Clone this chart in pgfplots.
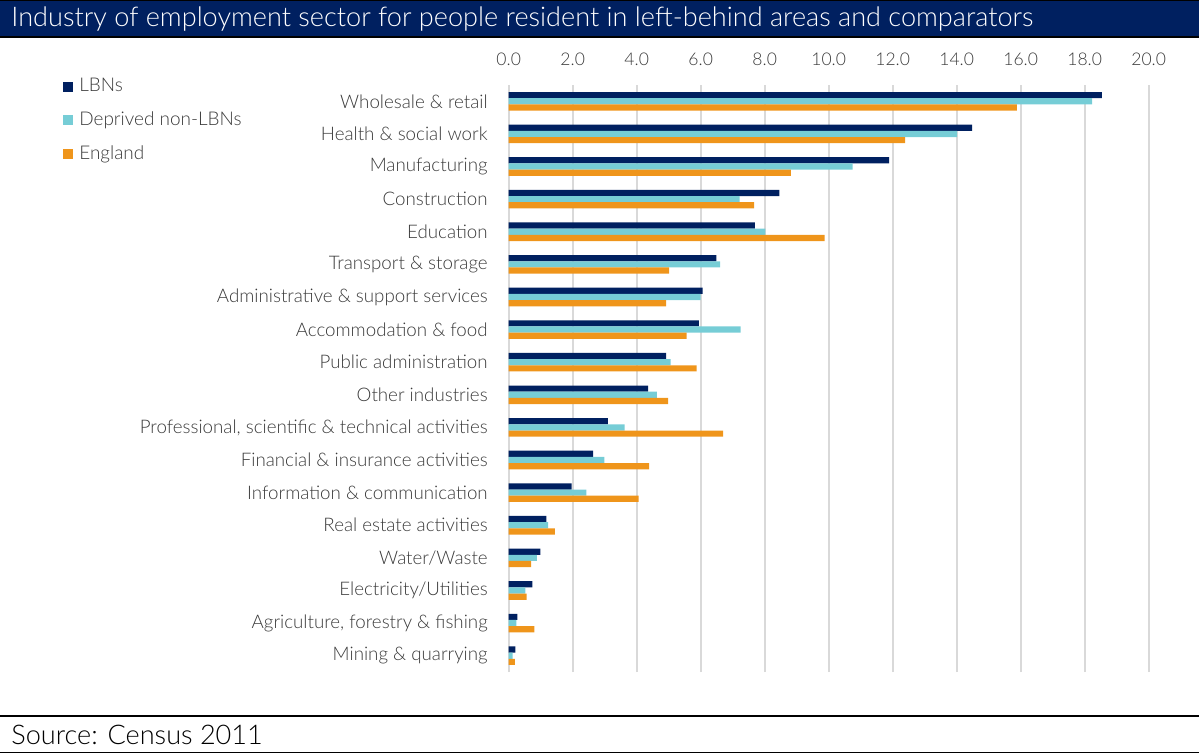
\documentclass[border=0pt]{standalone}
\usepackage{fontspec}
\setmainfont{Lato}[UprightFont=* Light, BoldFont=*]
\usepackage{pgfplots}
\pgfplotsset{compat=1.18}
\definecolor{navy}{HTML}{002060}
\definecolor{teal2}{HTML}{76CDD6}
\definecolor{orng}{HTML}{EF951B}
\definecolor{gridgray}{HTML}{D9D9D9}
\definecolor{txt}{HTML}{3A3A3A}
\begin{document}
\begin{tikzpicture}
\path[use as bounding box] (0,0) rectangle (599.5bp,-377bp);
\begin{scope}[x=0.5bp,y=-0.5bp]
\fill[navy] (0,0) rectangle (1199,37);
\fill[black] (0,0) rectangle (1199,1);
\fill[black] (0,36) rectangle (1199,38);
\node[anchor=west, text=white, font=\fontsize{13.6}{15}\selectfont, inner sep=0] at (11,19) {Industry of employment sector for people resident in left-behind areas and comparators};
\fill[black] (0,715) rectangle (1199,717);
\fill[black] (0,752) rectangle (1199,753.5);
\node[anchor=west, text=black, font=\fontsize{13.6}{15}\selectfont, inner sep=0] at (11,735) {Source: Census 2011};
\end{scope}
\begin{axis}[
  at={(254.35bp,-42.5bp)}, anchor=north west,
  xbar, scale only axis, width=320bp, height=293.5bp,
  xmin=0, xmax=20, ymin=-0.5, ymax=17.5,
  axis line style={draw=none}, major tick length=0pt,
  xtick={0,2,...,20}, xticklabel pos=upper,
  /pgf/number format/fixed, /pgf/number format/fixed zerofill, /pgf/number format/precision=1, /pgf/number format/assume math mode=true,
  xticklabel style={font=\fontsize{8.8}{10}\selectfont, text=txt, anchor=center, yshift=13bp},
  xmajorgrids, major grid style={draw=gridgray, line width=1bp},
  ytick={0,...,17},
  yticklabels={Mining \& quarrying, {Agriculture, forestry \& fishing}, Electricity/Utilities, Water/Waste, Real estate activities, Information \& communication, Financial \& insurance activities, {Professional, scientific \& technical activities}, Other industries, Public administration, Accommodation \& food, Administrative \& support services, Transport \& storage, Education, Construction, Manufacturing, Health \& social work, Wholesale \& retail},
  yticklabel style={font=\fontsize{9.4}{11}\selectfont, text=txt, xshift=-7bp},
  bar width=0.19,
  legend style={at={(axis description cs:-0.6964,1.0115)}, anchor=north west, draw=none, fill=none,
    font=\fontsize{9.5}{11}\selectfont, text=txt, inner sep=0pt, row sep=8.9bp,
    nodes={text height=6.5bp, text depth=1.5bp, inner sep=0pt},
    /tikz/every odd column/.append style={column sep=3bp}},
  legend cell align=left,
  legend image code/.code={\fill[#1] (0bp,-2.5bp) rectangle (5bp,2.5bp);},
]
\addplot[fill=navy, draw=none, bar shift=0.19] coordinates {
(0.21,0) (0.27,1) (0.74,2) (0.99,3) (1.18,4) (1.97,5) (2.64,6) (3.10,7) (4.36,8) (4.92,9) (5.94,10) (6.06,11) (6.49,12) (7.69,13) (8.46,14) (11.89,15) (14.48,16) (18.54,17)};
\addplot[fill=teal2, draw=none, bar shift=0] coordinates {
(0.12,0) (0.24,1) (0.52,2) (0.88,3) (1.23,4) (2.43,5) (2.99,6) (3.62,7) (4.63,8) (5.06,9) (7.25,10) (6.00,11) (6.61,12) (8.02,13) (7.22,14) (10.75,15) (14.01,16) (18.23,17)};
\addplot[fill=orng, draw=none, bar shift=-0.19] coordinates {
(0.19,0) (0.80,1) (0.56,2) (0.70,3) (1.44,4) (4.06,5) (4.39,6) (6.70,7) (4.98,8) (5.87,9) (5.56,10) (4.92,11) (5.01,12) (9.87,13) (7.67,14) (8.82,15) (12.39,16) (15.88,17)};
\legend{LBNs, Deprived non-LBNs, England}
\end{axis}
\end{tikzpicture}
\end{document}
